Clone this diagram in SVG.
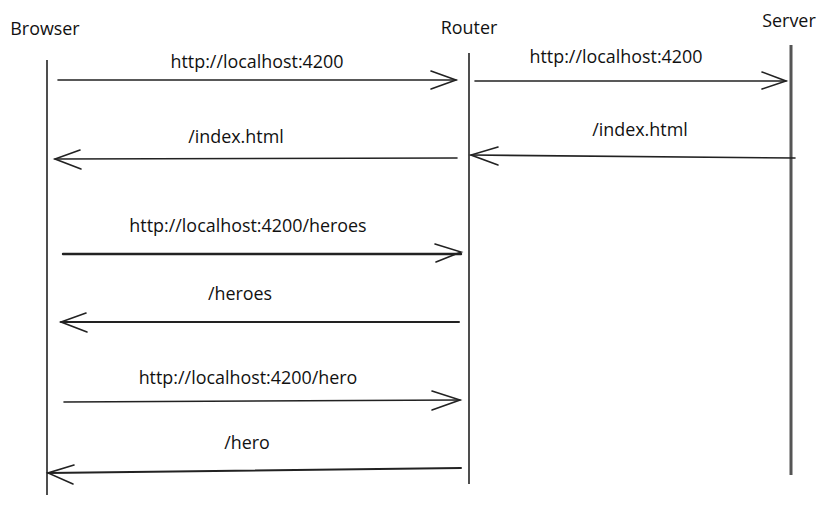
<svg xmlns="http://www.w3.org/2000/svg" width="826" height="505" viewBox="0 0 826 505">
<style>
text{font-family:"Open Sans","Liberation Sans",Arial,sans-serif;font-size:17.9px;fill:#111;text-anchor:middle}
.life{stroke:#222;stroke-width:1.6;fill:none}
.msg{stroke:#222;stroke-width:1.6;fill:none;stroke-linecap:round}
.head{stroke:#222;stroke-width:1.6;fill:none;stroke-linecap:round;stroke-linejoin:miter}
</style>
<rect width="826" height="505" fill="#fff"/>
<g id="browser">
<text x="45" y="35">Browser</text>
<line class="life" x1="47" y1="60" x2="47" y2="495"/>
</g>
<g id="router">
<text x="469" y="34">Router</text>
<line class="life" x1="469" y1="53" x2="469" y2="484"/>
</g>
<g id="server">
<text x="789" y="27">Server</text>
<line class="life" x1="791" y1="45" x2="791" y2="475" style="stroke:#555;stroke-width:3"/>
</g>
<g id="connectors">
<line class="msg" x1="58" y1="80" x2="456" y2="80"/>
<polyline class="head" points="431,71 456,80 431,89"/>
<line class="msg" x1="475" y1="81" x2="786" y2="81"/>
<polyline class="head" points="762,72 786,81 762,89"/>
<line class="msg" x1="457" y1="158" x2="55" y2="159"/>
<polyline class="head" points="80,150 55,159 81,169"/>
<line class="msg" x1="795" y1="158" x2="471" y2="155"/>
<polyline class="head" points="498,147 471,155 498,165"/>
<line class="msg" x1="63" y1="254" x2="461" y2="254" style="stroke-width:2.4"/>
<polyline class="head" points="435,244 461,252 436,262"/>
<line class="msg" x1="459" y1="322" x2="61" y2="322" style="stroke-width:2"/>
<polyline class="head" points="86,313 61,322 87,332"/>
<line class="msg" x1="64" y1="402" x2="460" y2="400"/>
<polyline class="head" points="432,391 460,400 432,410"/>
<line class="msg" x1="461" y1="468" x2="48" y2="473" style="stroke-width:2"/>
<polyline class="head" points="74,465 48,473 73,484"/>
</g>
<g id="labels">
<text x="257" y="68">http://localhost:4200</text>
<text x="616" y="63">http://localhost:4200</text>
<text x="236" y="143">/index.html</text>
<text x="640" y="136">/index.html</text>
<text x="248" y="232">http://localhost:4200/heroes</text>
<text x="240" y="300">/heroes</text>
<text x="248" y="384">http://localhost:4200/hero</text>
<text x="247" y="449">/hero</text>
</g>
</svg>
